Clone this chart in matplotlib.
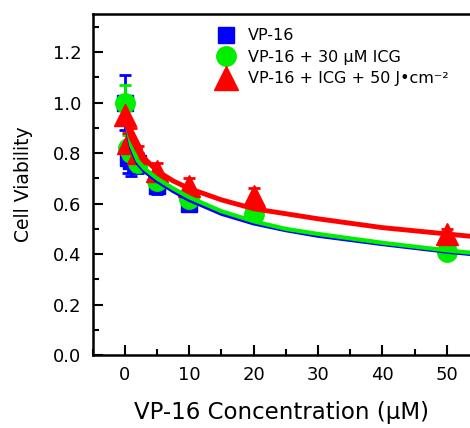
import numpy as np
import matplotlib.pyplot as plt
from matplotlib.lines import Line2D
from matplotlib.ticker import MultipleLocator

plt.rcParams['font.family'] = ['DejaVu Sans']

# measured points
conc = [0, 0.5, 1, 2, 5, 10, 20, 50]
vp16 = [1.00, 0.78, 0.77, 0.76, 0.67, 0.60, 0.57, 0.42]
vp16_err = [0.11, 0.06, 0.06, 0.04, 0.03, 0.02, 0.02, 0.01]
icg = [1.00, 0.82, 0.80, 0.76, 0.69, 0.62, 0.56, 0.41]
icg_err = [0.07, 0.05, 0.04, 0.03, 0.02, 0.02, 0.02, 0.01]
pdt = [0.95, 0.84, 0.86, 0.80, 0.73, 0.67, 0.63, 0.48]
pdt_err = [0.04, 0.04, 0.04, 0.03, 0.03, 0.03, 0.03, 0.02]

# fitted curves
fit_x = [0.5, 1, 2, 3, 5, 7.5, 10, 15, 20, 25, 30, 40, 50, 56]
fit_vp16 = [0.88, 0.82, 0.76, 0.73, 0.69, 0.65, 0.615, 0.56, 0.522, 0.495, 0.473, 0.44, 0.41, 0.395]
fit_icg = [0.89, 0.83, 0.77, 0.74, 0.70, 0.66, 0.625, 0.57, 0.53, 0.50, 0.48, 0.445, 0.415, 0.40]
fit_pdt = [0.90, 0.86, 0.81, 0.78, 0.73, 0.69, 0.66, 0.615, 0.58, 0.56, 0.54, 0.505, 0.48, 0.465]

labels = ['VP-16', 'VP-16 + 30 \u03bcM ICG', 'VP-16 + ICG + 50 J\u2022cm\u207b\u00b2']
blue, green, red = '#0000ff', '#00ee00', '#ff0000'

fig = plt.figure(figsize=(4.70, 4.28), dpi=100)
ax = fig.add_axes([0.197, 0.170, 0.803, 0.797])

ax.errorbar(conc, vp16, yerr=vp16_err, fmt='s', color=blue, ms=11, capsize=4, elinewidth=2, capthick=2, zorder=2)
ax.errorbar(conc, icg, yerr=icg_err, fmt='o', color=green, ms=14, capsize=4, elinewidth=2, capthick=2, zorder=2)
ax.errorbar(conc, pdt, yerr=pdt_err, fmt='^', color=red, ms=16, capsize=4, elinewidth=2, capthick=2, zorder=2)

ax.plot(fit_x, fit_vp16, color=blue, lw=3, zorder=3)
ax.plot(fit_x, fit_icg, color=green, lw=3, zorder=3.1)
ax.plot(fit_x, fit_pdt, color=red, lw=3.5, zorder=3.2)

ax.set_xlim(-5, 53.6)
ax.set_ylim(0, 1.35)
ax.xaxis.set_major_locator(MultipleLocator(10))
ax.xaxis.set_minor_locator(MultipleLocator(5))
ax.yaxis.set_major_locator(MultipleLocator(0.2))
ax.yaxis.set_minor_locator(MultipleLocator(0.1))
ax.set_xticks([0, 10, 20, 30, 40, 50])
ax.set_yticklabels([f'{v:.1f}' for v in ax.get_yticks()])
ax.tick_params(which='major', direction='in', length=7, width=1.5, labelsize=13, pad=8)
ax.tick_params(which='minor', direction='in', length=4, width=1.5)
ax.spines['right'].set_visible(False)
for s in ['left', 'bottom', 'top']:
    ax.spines[s].set_linewidth(1.8)

ax.set_xlabel('VP-16 Concentration (\u03bcM)', fontsize=16.5, labelpad=12)
ax.set_ylabel('Cell Viability', fontsize=13.5, labelpad=14)

handles = [Line2D([], [], ls='none', marker='s', color=blue, ms=12),
           Line2D([], [], ls='none', marker='o', color=green, ms=14),
           Line2D([], [], ls='none', marker='^', color=red, ms=17)]
ax.legend(handles, labels, loc='upper left', bbox_to_anchor=(0.29, 1.0), frameon=False,
          fontsize=11.5, handlelength=1.2, handletextpad=0.8, labelspacing=0.4)

fig.savefig('out.png', dpi=100)
